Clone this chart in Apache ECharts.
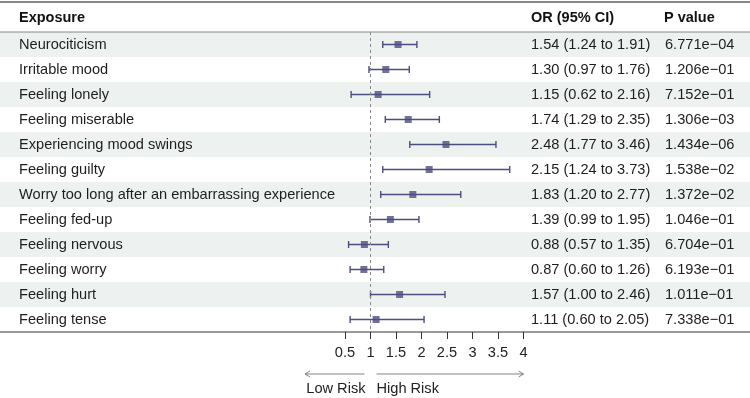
<!DOCTYPE html>
<html>
<head>
<meta charset="utf-8">
<script src="https://cdn.jsdelivr.net/npm/echarts@6/dist/echarts.min.js"></script>
<style>
html,body{margin:0;padding:0;background:#fff;}
#main{width:750px;height:398px;}
</style>
</head>
<body>
<div id="main"></div>
<script>
// 数据
var exposures = ['Neurociticism', 'Irritable mood', 'Feeling lonely', 'Feeling miserable',
  'Experiencing mood swings', 'Feeling guilty', 'Worry too long after an embarrassing experience',
  'Feeling fed-up', 'Feeling nervous', 'Feeling worry', 'Feeling hurt', 'Feeling tense'];
var orValues = [1.54, 1.30, 1.15, 1.74, 2.48, 2.15, 1.83, 1.39, 0.88, 0.87, 1.57, 1.11];
var lowerCI = [1.24, 0.97, 0.62, 1.29, 1.77, 1.24, 1.20, 0.99, 0.57, 0.60, 1.00, 0.60];
var upperCI = [1.91, 1.76, 2.16, 2.35, 3.46, 3.73, 2.77, 1.95, 1.35, 1.26, 2.46, 2.05];
var pValues = ['6.771e\u221204', '1.206e\u221201', '7.152e\u221201', '1.306e\u221203', '1.434e\u221206',
  '1.538e\u221202', '1.372e\u221202', '1.046e\u221201', '6.704e\u221201', '6.193e\u221201',
  '1.011e\u221201', '7.338e\u221201'];
var xTicks = [0.5, 1, 1.5, 2, 2.5, 3, 3.5, 4];

var font = 'Liberation Sans, Arial, sans-serif';
var fs = 14.6;
var pointColor = '#4d4d80';
var rowIdx = exposures.map(function (e, i) { return i; });

function fmt(v) { return v.toFixed(2); }

var chart = echarts.init(document.getElementById('main'));
var option = {
  animation: false,
  backgroundColor: '#fff',
  grid: {left: 345, right: 226.5, top: 32, bottom: 66},
  xAxis: {
    type: 'value',
    min: 0.5, max: 4, interval: 0.5,
    splitLine: {show: false},
    axisLine: {show: false},
    axisTick: {show: true, length: 7, lineStyle: {color: '#333'}},
    axisLabel: {
      fontFamily: font, fontSize: fs, color: '#222', margin: 13,
      formatter: function (v) { return xTicks.indexOf(v) >= 0 ? String(v) : ''; }
    }
  },
  yAxis: {
    type: 'category', inverse: true, data: exposures,
    show: false
  },
  series: [
    {
      // 隔行底色
      type: 'custom',
      silent: true,
      data: rowIdx,
      renderItem: function (params, api) {
        var i = api.value(0);
        if (i % 2 !== 0) return null;
        var c = api.coord([1, i]);
        var h = api.size([0, 1])[1];
        return {
          type: 'rect',
          shape: {x: 0, y: c[1] - h / 2, width: 750, height: h},
          style: {fill: '#edf1f0'}
        };
      },
      encode: {y: 0},
      z: 0
    },
    {
      // 文本列
      type: 'custom',
      silent: true,
      data: rowIdx,
      renderItem: function (params, api) {
        var i = api.value(0);
        var c = api.coord([1, i]);
        var ts = {fontFamily: font, fontSize: fs, fill: '#1e1e1e', textVerticalAlign: 'middle'};
        return {
          type: 'group',
          children: [
            {type: 'text', style: Object.assign({text: exposures[i], x: 19, y: c[1]}, ts)},
            {type: 'text', style: Object.assign({text: fmt(orValues[i]) + ' (' + fmt(lowerCI[i]) + ' to ' + fmt(upperCI[i]) + ')', x: 531, y: c[1]}, ts)},
            {type: 'text', style: Object.assign({text: pValues[i], x: 665, y: c[1]}, ts)}
          ]
        };
      },
      encode: {y: 0},
      z: 3
    },
    {
      // 置信区间
      type: 'custom',
      data: rowIdx.map(function (i) { return [lowerCI[i], upperCI[i], i]; }),
      renderItem: function (params, api) {
        var lo = api.coord([api.value(0), api.value(2)]);
        var hi = api.coord([api.value(1), api.value(2)]);
        var st = {stroke: pointColor, lineWidth: 1.4};
        return {
          type: 'group',
          children: [
            {type: 'line', shape: {x1: lo[0], y1: lo[1], x2: hi[0], y2: hi[1]}, style: st},
            {type: 'line', shape: {x1: lo[0], y1: lo[1] - 3.5, x2: lo[0], y2: lo[1] + 3.5}, style: st},
            {type: 'line', shape: {x1: hi[0], y1: hi[1] - 3.5, x2: hi[0], y2: hi[1] + 3.5}, style: st}
          ]
        };
      },
      encode: {x: [0, 1], y: 2},
      z: 4
    },
    {
      type: 'scatter',
      symbol: 'rect',
      symbolSize: 7,
      itemStyle: {color: pointColor},
      data: rowIdx.map(function (i) { return [orValues[i], i]; }),
      z: 5,
      markLine: {
        silent: true,
        symbol: 'none',
        label: {show: false},
        lineStyle: {color: '#8a8a8a', type: [3, 3], width: 1},
        data: [{xAxis: 1}]
      }
    }
  ]
};
chart.setOption(option);

// 表格线与风险箭头
var x1 = chart.convertToPixel({xAxisIndex: 0}, 1);
var x05 = chart.convertToPixel({xAxisIndex: 0}, 0.5);
var x4 = chart.convertToPixel({xAxisIndex: 0}, 4);
var hs = {fontFamily: font, fontSize: 14.5, fontWeight: 'bold', fill: '#111', textVerticalAlign: 'middle'};
chart.setOption({
  graphic: [
    {type: 'line', shape: {x1: 0, y1: 2, x2: 750, y2: 2}, style: {stroke: '#888', lineWidth: 2}},
    {type: 'line', shape: {x1: 0, y1: 32, x2: 750, y2: 32}, style: {stroke: '#888', lineWidth: 1}},
    {type: 'line', shape: {x1: 0, y1: 332, x2: 750, y2: 332}, style: {stroke: '#333', lineWidth: 1}},
    {type: 'text', style: Object.assign({text: 'Exposure', x: 19, y: 18}, hs)},
    {type: 'text', style: Object.assign({text: 'OR (95% CI)', x: 531, y: 18}, hs)},
    {type: 'text', style: Object.assign({text: 'P value', x: 664, y: 18}, hs)},
    {type: 'line', shape: {x1: x1 - 6, y1: 374, x2: x05 - 40, y2: 374}, style: {stroke: '#666', lineWidth: 0.8}},
    {type: 'polyline', shape: {points: [[x05 - 35, 371], [x05 - 40, 374], [x05 - 35, 377]]}, style: {stroke: '#666', fill: null, lineWidth: 0.8}},
    {type: 'line', shape: {x1: x1 + 6, y1: 374, x2: x4, y2: 374}, style: {stroke: '#666', lineWidth: 0.8}},
    {type: 'polyline', shape: {points: [[x4 - 5, 371], [x4, 374], [x4 - 5, 377]]}, style: {stroke: '#666', fill: null, lineWidth: 0.8}},
    {type: 'text', style: {text: 'Low Risk', x: x1 - 5, y: 389, fontFamily: font, fontSize: fs, fill: '#222', textAlign: 'right', textVerticalAlign: 'middle'}},
    {type: 'text', style: {text: 'High Risk', x: x1 + 6, y: 389, fontFamily: font, fontSize: fs, fill: '#222', textAlign: 'left', textVerticalAlign: 'middle'}}
  ]
});
</script>
</body>
</html>
